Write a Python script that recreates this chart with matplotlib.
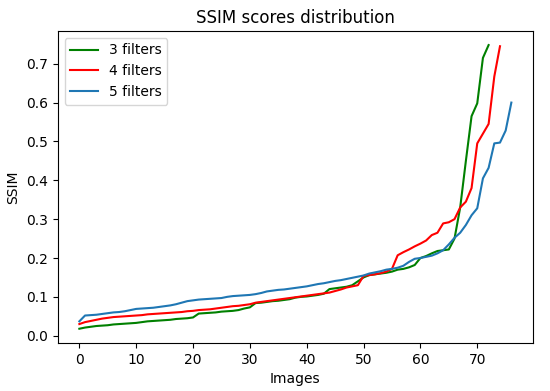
import matplotlib
matplotlib.use("Agg")
import matplotlib.pyplot as plt

filters3 = [0.018, 0.021, 0.023, 0.025, 0.026, 0.027, 0.029, 0.030, 0.031, 0.032,
            0.033, 0.035, 0.037, 0.038, 0.039, 0.040, 0.041, 0.043, 0.044, 0.045,
            0.047, 0.057, 0.058, 0.059, 0.060, 0.062, 0.063, 0.064, 0.066, 0.070,
            0.073, 0.084, 0.085, 0.087, 0.089, 0.090, 0.092, 0.094, 0.098, 0.100,
            0.101, 0.103, 0.105, 0.108, 0.120, 0.122, 0.124, 0.126, 0.130, 0.140,
            0.150, 0.156, 0.158, 0.160, 0.162, 0.165, 0.170, 0.172, 0.176, 0.182,
            0.200, 0.205, 0.212, 0.218, 0.220, 0.222, 0.250, 0.330, 0.450, 0.565,
            0.598, 0.715, 0.748]

filters4 = [0.030, 0.035, 0.038, 0.041, 0.044, 0.046, 0.048, 0.049, 0.050, 0.051,
            0.052, 0.053, 0.055, 0.056, 0.057, 0.058, 0.059, 0.060, 0.061, 0.063,
            0.064, 0.066, 0.067, 0.068, 0.070, 0.072, 0.074, 0.076, 0.077, 0.079,
            0.081, 0.085, 0.087, 0.089, 0.091, 0.093, 0.095, 0.097, 0.099, 0.101,
            0.103, 0.105, 0.107, 0.109, 0.111, 0.115, 0.119, 0.124, 0.127, 0.130,
            0.154, 0.156, 0.158, 0.161, 0.165, 0.172, 0.207, 0.215, 0.222, 0.230,
            0.237, 0.245, 0.259, 0.265, 0.289, 0.292, 0.300, 0.330, 0.345, 0.380,
            0.495, 0.520, 0.545, 0.667, 0.745]

filters5 = [0.037, 0.052, 0.053, 0.054, 0.056, 0.058, 0.060, 0.061, 0.063, 0.066,
            0.069, 0.070, 0.071, 0.072, 0.074, 0.076, 0.078, 0.081, 0.085, 0.089,
            0.091, 0.093, 0.094, 0.095, 0.096, 0.097, 0.100, 0.102, 0.103, 0.104,
            0.105, 0.107, 0.110, 0.114, 0.116, 0.118, 0.119, 0.121, 0.123, 0.125,
            0.127, 0.130, 0.133, 0.135, 0.138, 0.141, 0.143, 0.146, 0.149, 0.152,
            0.155, 0.160, 0.163, 0.166, 0.170, 0.172, 0.175, 0.180, 0.190, 0.198,
            0.200, 0.203, 0.206, 0.212, 0.220, 0.235, 0.252, 0.265, 0.285, 0.310,
            0.328, 0.405, 0.432, 0.495, 0.497, 0.528, 0.600]

labels = ["3 filters", "4 filters", "5 filters"]
colors = ["green", "red", "tab:blue"]

fig = plt.figure(figsize=(5.5, 3.91), dpi=100)
ax = fig.add_axes([0.105, 0.123, 0.864, 0.798])
for series, lab, col in zip([filters3, filters4, filters5], labels, colors):
    ax.plot(range(len(series)), series, color=col, label=lab, linewidth=1.5)

ax.set_title("SSIM scores distribution", fontsize=12)
ax.set_xlabel("Images")
ax.set_ylabel("SSIM")
ax.set_xticks([0, 10, 20, 30, 40, 50, 60, 70])
ax.set_yticks([0.0, 0.1, 0.2, 0.3, 0.4, 0.5, 0.6, 0.7])
ax.legend(loc="upper left")
fig.savefig("out.png", dpi=100)
